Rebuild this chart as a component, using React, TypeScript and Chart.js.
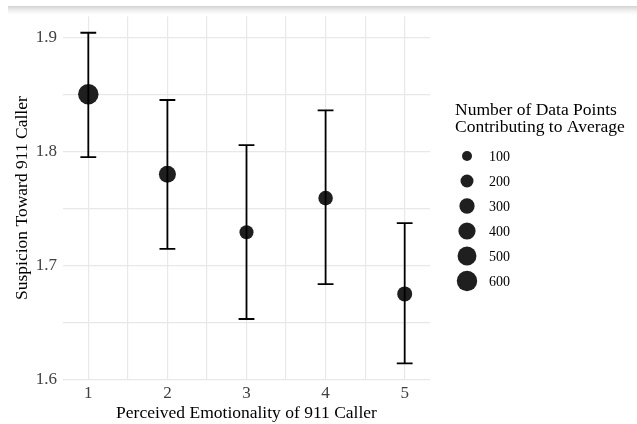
import { useEffect, useRef } from "react";
import { Chart, registerables } from "chart.js";

Chart.register(...registerables);

// ---- data ----
const emotionality = [1, 2, 3, 4, 5];
const meanSuspicion = [1.85, 1.78, 1.729, 1.759, 1.675];
const lowerCI = [1.795, 1.7145, 1.653, 1.6835, 1.614];
const upperCI = [1.904, 1.845, 1.8054, 1.836, 1.737];
const pointCounts = [600, 390, 245, 268, 286];
const legendCounts = [100, 200, 300, 400, 500, 600];
const xGridValues = [1, 1.5, 2, 2.5, 3, 3.5, 4, 4.5, 5];
const yGridValues = [1.6, 1.65, 1.7, 1.75, 1.8, 1.85, 1.9];
const yTickLabels = ["1.6", "1.7", "1.8", "1.9"];
const xTickLabels = ["1", "2", "3", "4", "5"];

const xAxisTitle = "Perceived Emotionality of 911 Caller";
const yAxisTitle = "Suspicion Toward 911 Caller";
const legendTitle = ["Number of Data Points", "Contributing to Average"];

const SERIF = "'Liberation Serif', 'Times New Roman', serif";
const POINT_COLOR = "#1f1f1f";
const GRID_COLOR = "#e8e8e8";
const TICK_COLOR = "#404040";

function radiusFor(n: number): number {
  return 5 + 0.36 * (Math.sqrt(n) - 10);
}

function labelFor(list: string[], v: number): string {
  const hit = list.find((s) => Math.abs(parseFloat(s) - v) < 1e-6);
  return hit ?? "";
}

const errorBarPlugin = {
  id: "errorBars",
  afterDatasetsDraw(chart: any) {
    const { ctx, scales } = chart;
    const xs = scales.x;
    const ys = scales.y;
    ctx.save();
    ctx.strokeStyle = "#000000";
    ctx.lineWidth = 1.8;
    for (let i = 0; i < emotionality.length; i++) {
      const x = xs.getPixelForValue(emotionality[i]);
      const xl = xs.getPixelForValue(emotionality[i] - 0.1);
      const xr = xs.getPixelForValue(emotionality[i] + 0.1);
      const yl = ys.getPixelForValue(lowerCI[i]);
      const yu = ys.getPixelForValue(upperCI[i]);
      ctx.beginPath();
      ctx.moveTo(x, yl);
      ctx.lineTo(x, yu);
      ctx.moveTo(xl, yl);
      ctx.lineTo(xr, yl);
      ctx.moveTo(xl, yu);
      ctx.lineTo(xr, yu);
      ctx.stroke();
    }
    ctx.restore();
  },
};

const sizeLegendPlugin = {
  id: "sizeLegend",
  afterDraw(chart: any) {
    const { ctx } = chart;
    ctx.save();
    ctx.fillStyle = "#000000";
    ctx.font = `17.5px ${SERIF}`;
    ctx.textAlign = "left";
    ctx.textBaseline = "alphabetic";
    ctx.fillText(legendTitle[0], 455, 114.5);
    ctx.fillText(legendTitle[1], 455, 132);
    ctx.font = `14px ${SERIF}`;
    ctx.textBaseline = "middle";
    legendCounts.forEach((n, i) => {
      const cy = 156 + i * 25;
      ctx.fillStyle = POINT_COLOR;
      ctx.beginPath();
      ctx.arc(467, cy, radiusFor(n), 0, Math.PI * 2);
      ctx.fill();
      ctx.fillStyle = "#000000";
      ctx.fillText(String(n), 489, cy + 1);
    });
    ctx.restore();
  },
};

const backgroundPlugin = {
  id: "bgAndShade",
  beforeDraw(chart: any) {
    const { ctx, width, height } = chart;
    ctx.save();
    ctx.fillStyle = "#ffffff";
    ctx.fillRect(0, 0, width, height);
    ctx.restore();
  },
  afterDraw(chart: any) {
    const { ctx, width } = chart;
    ctx.save();
    const g = ctx.createLinearGradient(0, 6, 0, 17);
    g.addColorStop(0, "rgba(208,208,208,1)");
    g.addColorStop(1, "rgba(255,255,255,0)");
    ctx.fillStyle = g;
    ctx.fillRect(8, 6, width - 8, 11);
    ctx.restore();
  },
};

export default function App() {
  const canvasRef = useRef<HTMLCanvasElement | null>(null);

  useEffect(() => {
    if (!canvasRef.current) return;
    const chart = new Chart(canvasRef.current, {
      type: "scatter",
      data: {
        datasets: [
          {
            label: "means",
            data: emotionality.map((x, i) => ({ x, y: meanSuspicion[i] })),
            pointRadius: pointCounts.map(radiusFor),
            pointHoverRadius: pointCounts.map(radiusFor),
            pointBackgroundColor: POINT_COLOR,
            pointBorderWidth: 0,
            showLine: false,
          },
        ],
      },
      options: {
        animation: false,
        responsive: false,
        layout: { padding: { top: 14, right: 207, left: 0, bottom: 0 } },
        plugins: {
          legend: { display: false },
          tooltip: { enabled: false },
        },
        scales: {
          x: {
            type: "linear",
            min: 0.68,
            max: 5.32,
            afterBuildTicks: (s: any) => {
              s.ticks = xGridValues.map((v) => ({ value: v }));
            },
            afterFit: (s: any) => {
              s.height = 44;
            },
            ticks: {
              callback: (v: any) => labelFor(xTickLabels, Number(v)),
              font: { family: SERIF, size: 17 },
              color: TICK_COLOR,
              padding: 3,
              maxRotation: 0,
              autoSkip: false,
            },
            grid: { color: GRID_COLOR, lineWidth: 1.2, drawTicks: false },
            border: { display: false },
            title: {
              display: true,
              text: xAxisTitle,
              font: { family: SERIF, size: 17.5 },
              color: "#000000",
              padding: { top: 0, bottom: 0 },
            },
          },
          y: {
            type: "linear",
            min: 1.5995,
            max: 1.9185,
            afterBuildTicks: (s: any) => {
              s.ticks = yGridValues.map((v) => ({ value: v }));
            },
            afterFit: (s: any) => {
              s.width = 63;
            },
            ticks: {
              callback: (v: any) => labelFor(yTickLabels, Number(v)),
              font: { family: SERIF, size: 17 },
              color: TICK_COLOR,
              padding: 6,
              autoSkip: false,
            },
            grid: { color: GRID_COLOR, lineWidth: 1.2, drawTicks: false },
            border: { display: false },
            title: {
              display: true,
              text: yAxisTitle,
              font: { family: SERIF, size: 17.5 },
              color: "#000000",
              padding: { top: 12, bottom: 0 },
            },
          },
        },
      },
      plugins: [backgroundPlugin, errorBarPlugin, sizeLegendPlugin],
    });
    return () => chart.destroy();
  }, []);

  return (
    <div style={{ position: "absolute", left: 0, top: 0, width: 637, height: 424 }}>
      <canvas ref={canvasRef} width={637} height={424} style={{ display: "block" }} />
    </div>
  );
}
